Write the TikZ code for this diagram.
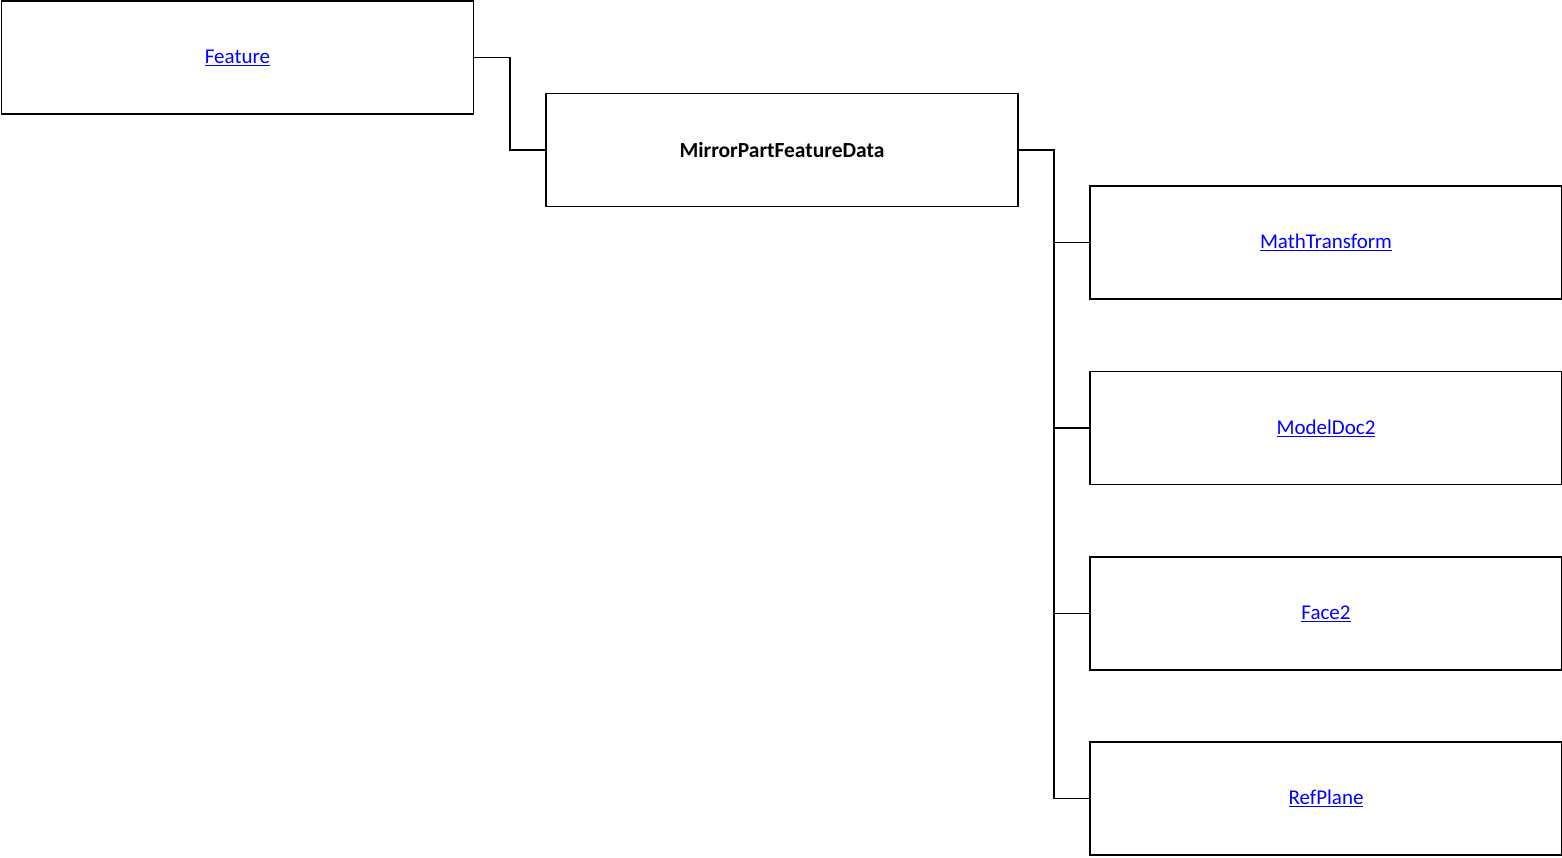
\documentclass[tikz,border=0pt]{standalone}
\usepackage{fontspec}
\setmainfont{Carlito}
\definecolor{linkblue}{RGB}{0,0,255}
\newcommand{\lowtext}[1]{\raisebox{-1pt}{#1}}
\tikzset{
  box/.style={draw=black, line width=1.3pt, minimum width=472pt, minimum height=113pt, inner sep=0pt, font=\fontsize{21}{25}\selectfont},
  link/.style={text=linkblue},
  conn/.style={draw=black, line width=1.8pt}
}
\begin{document}
\begin{tikzpicture}[x=1pt,y=-1pt]
\useasboundingbox (0,0) rectangle (1562,857);
\node[box, link] (feat) at (237.5,57.5) {\lowtext{\underline{Feature}}};
\node[box, font=\fontsize{21.5}{25}\selectfont\bfseries] (mirror) at (782,150) {\lowtext{MirrorPartFeatureData}};
\node[box, link] (math) at (1326,242.5) {\lowtext{\underline{MathTransform}}};
\node[box, link] (model) at (1326,428) {\lowtext{\underline{ModelDoc2}}};
\node[box, link] (face) at (1326,613.5) {\lowtext{\underline{Face2}}};
\node[box, link] (ref) at (1326,798.5) {\lowtext{\underline{RefPlane}}};
\coordinate (bus) at (1054,150);
\draw[conn] (feat.east) -- (510,57.5) |- (mirror.west);
\draw[conn] (mirror.east) -- (bus) |- (ref.west);
\draw[conn] (bus) |- (math.west);
\draw[conn] (bus) |- (model.west);
\draw[conn] (bus) |- (face.west);
\end{tikzpicture}
\end{document}
